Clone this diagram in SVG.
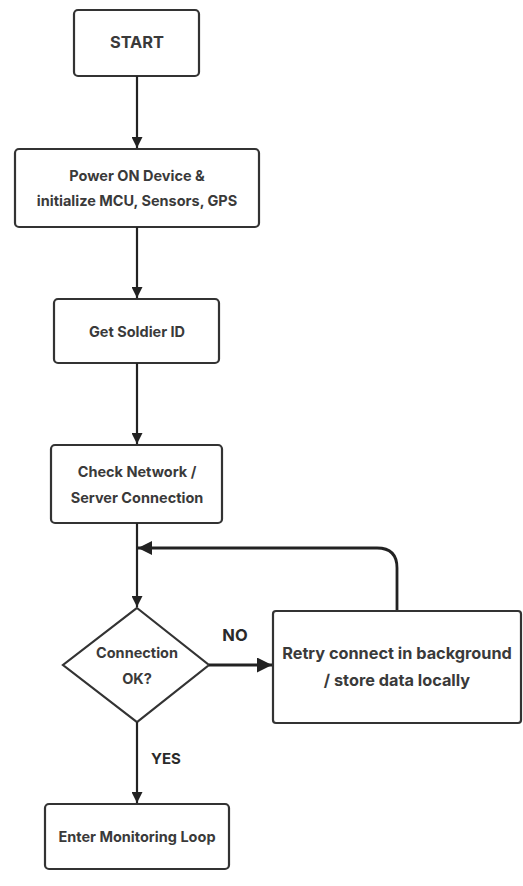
<svg xmlns="http://www.w3.org/2000/svg" width="523" height="886" viewBox="0 0 523 886">
<style>
.box{fill:#fff;stroke:#333;stroke-width:2.2}
.t{font-family:Inter,"Open Sans",sans-serif;font-weight:700;font-size:14.5px;fill:#3a3a3a;text-anchor:middle;dominant-baseline:central}
.c{fill:none;stroke:#222;stroke-width:2.2}
.lbl{font-family:Inter,"Open Sans",sans-serif;font-weight:700;font-size:15px;fill:#2a2a2a;text-anchor:middle;dominant-baseline:central}
</style>
<defs>
<marker id="ah" viewBox="0 0 10 10" refX="10" refY="5" markerWidth="5" markerHeight="5" orient="auto" markerUnits="strokeWidth">
<path d="M0,0 L10,5 L0,10 z" fill="#222"/>
</marker>
</defs>
<rect width="523" height="886" fill="#fff"/>
<g id="start"><rect class="box" x="74" y="10" width="125" height="66" rx="4"/><text class="t" x="137" y="42" style="font-size:16.4px">START</text></g>
<g id="power"><rect class="box" x="15" y="149" width="244" height="78" rx="4"/><text class="t" x="137" y="175">Power ON Device &amp;</text><text class="t" x="137" y="200">initialize MCU, Sensors, GPS</text></g>
<g id="soldier"><rect class="box" x="54" y="299" width="165" height="64" rx="4"/><text class="t" x="137" y="331">Get Soldier ID</text></g>
<g id="check"><rect class="box" x="51" y="445" width="171" height="78" rx="4"/><text class="t" x="137" y="471">Check Network /</text><text class="t" x="137" y="497">Server Connection</text></g>
<g id="decision"><polygon class="box" points="137,608 209,665 137,722 63,665"/><text class="t" x="137" y="652">Connection</text><text class="t" x="137" y="678">OK?</text></g>
<g id="retry"><rect class="box" x="273" y="611" width="248" height="112" rx="3"/><text class="t" x="397" y="653" style="font-size:16.3px">Retry connect in background</text><text class="t" x="397" y="680" style="font-size:16.3px">/ store data locally</text></g>
<g id="monitor"><rect class="box" x="45" y="804" width="184" height="65" rx="4"/><text class="t" x="137" y="836">Enter Monitoring Loop</text></g>
<g id="connectors">
<line class="c" x1="137" y1="76" x2="137" y2="148" marker-end="url(#ah)"/>
<line class="c" x1="137" y1="227" x2="137" y2="298" marker-end="url(#ah)"/>
<line class="c" x1="137" y1="363" x2="137" y2="444" marker-end="url(#ah)"/>
<line class="c" x1="137" y1="523" x2="137" y2="607" marker-end="url(#ah)"/>
<path class="c" d="M397,610 L397,568 Q397,548 377,548 L138,548" marker-end="url(#ah)" style="stroke-width:2.8"/>
<line class="c" x1="209" y1="665" x2="272" y2="665" marker-end="url(#ah)" style="stroke-width:3"/>
<line class="c" x1="137" y1="722" x2="137" y2="803" marker-end="url(#ah)"/>
<text class="lbl" x="235" y="635" style="font-size:16.5px">NO</text>
<text class="lbl" x="166" y="758">YES</text>
</g>
</svg>
